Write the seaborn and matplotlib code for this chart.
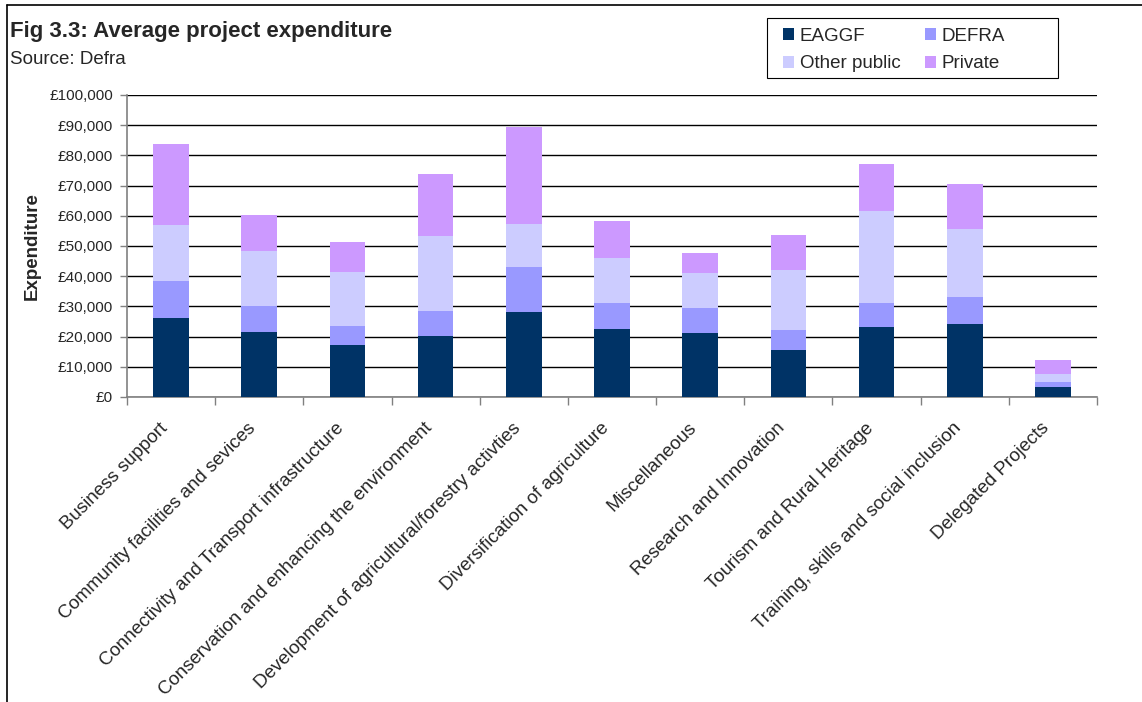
import matplotlib
matplotlib.use("Agg")
import matplotlib.pyplot as plt
from matplotlib.lines import Line2D
from matplotlib.patches import Patch, Rectangle
from matplotlib.ticker import FuncFormatter, FixedLocator
from matplotlib.transforms import ScaledTranslation
import seaborn as sns
import pandas as pd
import numpy as np

# Average expenditure per project by measure, split by funding source (GBP)
categories = [
    "Business support",
    "Community facilities and sevices",
    "Connectivity and Transport infrastructure",
    "Conservation and enhancing the environment",
    "Development of agricultural/forestry activties",
    "Diversification of agriculture",
    "Miscellaneous",
    "Research and Innovation",
    "Tourism and Rural Heritage",
    "Training, skills and social inclusion",
    "Delegated Projects",
]
eaggf = [26100, 21400, 17100, 20100, 28100, 22400, 21100, 15500, 23100, 24100, 3200]
defra = [12200, 8700, 6300, 8300, 14900, 8600, 8300, 6600, 7900, 8900, 1700]
other_public = [18600, 18200, 17900, 24900, 14200, 15000, 11600, 19900, 30500, 22600, 2600]
private = [26900, 11900, 10000, 20500, 32200, 12200, 6600, 11600, 15600, 14900, 4700]

series_names = ["EAGGF", "DEFRA", "Other public", "Private"]
series_colors = ["#003366", "#9999FF", "#CCCCFF", "#CC99FF"]

sns.set_theme(style="white")
plt.rcParams["font.family"] = ["Liberation Sans", "DejaVu Sans"]

df = pd.DataFrame({
    "category": categories,
    "EAGGF": eaggf,
    "DEFRA": defra,
    "Other public": other_public,
    "Private": private,
})
# cumulative totals give the top of each stacked segment
cum = df[series_names].cumsum(axis=1)

W, H = 1142, 702
fig = plt.figure(figsize=(W / 100, H / 100), dpi=100)
ax = fig.add_axes([0.1112, 0.4345, 0.8494, 0.4302])

for name, color in reversed(list(zip(series_names, series_colors))):
    sns.barplot(x=df["category"], y=cum[name], color=color, width=0.405,
                saturation=1, ax=ax, linewidth=0, zorder=3)

ax.set_ylim(0, 100000)
ax.set_xlim(-0.5, len(categories) - 0.5)
ax.yaxis.set_major_locator(FixedLocator(np.arange(0, 100001, 10000)))
ax.yaxis.set_major_formatter(FuncFormatter(lambda v, p: f"£{v:,.0f}"))
ax.grid(axis="y", color="#000000", linewidth=1, zorder=0)
ax.set_axisbelow(True)

for side in ["top", "right"]:
    ax.spines[side].set_visible(False)
for side in ["left", "bottom"]:
    ax.spines[side].set_color("#808080")
    ax.spines[side].set_linewidth(1.2)

ax.tick_params(axis="y", which="major", direction="out", length=5, width=1,
               color="#808080", labelsize=11, pad=5, left=True)
ax.set_xticks(range(len(categories)))
ax.set_xticklabels(categories, rotation=45, ha="right", va="top",
                   rotation_mode="anchor", fontsize=13.5)
ax.tick_params(axis="x", which="major", length=0, pad=12)
shift = ScaledTranslation(-12 / 100, -6 / 100, fig.dpi_scale_trans)
for lbl in ax.get_xticklabels():
    lbl.set_transform(lbl.get_transform() + shift)
ax.set_xticks(np.arange(-0.5, len(categories)), minor=True)
ax.tick_params(axis="x", which="minor", direction="out", length=6, width=1,
               color="#808080", bottom=True)

ax.set_xlabel("")
ax.set_ylabel("Expenditure", fontsize=13.5, fontweight="bold", labelpad=6)

fig.text(10 / W, 1 - 37.5 / H, "Fig 3.3: Average project expenditure",
         fontsize=16, fontweight="bold", ha="left", va="baseline")
fig.text(10 / W, 1 - 63.5 / H, "Source: Defra", fontsize=13.5,
         ha="left", va="baseline")

# legend entries laid out row-wise: EAGGF, DEFRA / Other public, Private
order = [0, 2, 1, 3]
handles = [Patch(facecolor=series_colors[i], edgecolor="none") for i in order]
labels = [series_names[i] for i in order]
leg = fig.legend(handles, labels, ncol=2, loc="upper left",
                 bbox_to_anchor=(783 / W, 1 - 28 / H), frameon=False,
                 fontsize=13.5, handlelength=0.6, handleheight=0.6,
                 handletextpad=0.3, columnspacing=1.3, borderpad=0,
                 borderaxespad=0, labelspacing=0.56)
fig.add_artist(Rectangle((767 / W, 1 - 78 / H), 291 / W, 60 / H,
                         facecolor="none", edgecolor="#000000", linewidth=0.8,
                         transform=fig.transFigure))

# outer frame along the top and left edges
fig.add_artist(Line2D([7 / W, 7 / W], [0.0, 1 - 5 / H], color="#000000",
                      linewidth=1.2, transform=fig.transFigure))
fig.add_artist(Line2D([7 / W, 1.0], [1 - 5 / H, 1 - 5 / H], color="#000000",
                      linewidth=1.2, transform=fig.transFigure))

fig.savefig("out.png", dpi=100)
